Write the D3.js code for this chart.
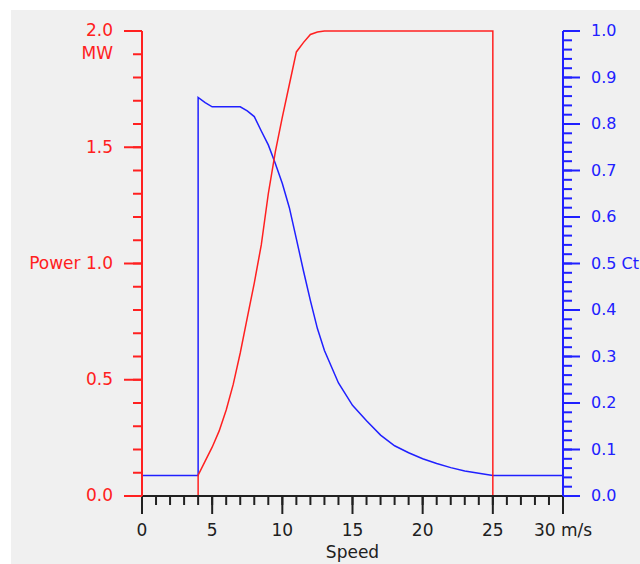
<!DOCTYPE html>
<html>
<head>
<meta charset="utf-8">
<script src="https://cdn.jsdelivr.net/npm/d3@7"></script>
<style>
    body { margin: 0; background: #fff; }
    svg { display: block; font-family: "DejaVu Sans", Verdana, sans-serif; }
</style>
</head>
<body>
<div id="chart"></div>
<script>
// wind speed in m/s
const powerSpeed = [0, 4, 4, 4.5, 5, 5.5, 6, 6.5, 7, 7.5, 8, 8.5, 9, 9.5, 10, 10.5, 11, 11.5, 12, 12.5, 13, 25, 25, 30];
// power in MW
const powerValues = [0, 0, 0.09, 0.15, 0.21, 0.28, 0.37, 0.48, 0.615, 0.766, 0.916, 1.08, 1.3, 1.48, 1.63, 1.77, 1.91, 1.95, 1.985, 1.996, 2.0, 2.0, 0, 0];

const ctSpeed = [0, 4, 4, 4.5, 5, 5.5, 6, 6.5, 7, 7.5, 8, 8.5, 9, 9.5, 10, 10.5, 11, 11.5, 12, 12.5, 13, 14, 15, 16, 17, 18, 19, 20, 21, 22, 23, 24, 25, 30];
const ctValues = [0.044, 0.044, 0.857, 0.846, 0.837, 0.837, 0.837, 0.837, 0.837, 0.828, 0.816, 0.785, 0.755, 0.715, 0.672, 0.62, 0.553, 0.485, 0.42, 0.36, 0.313, 0.243, 0.195, 0.162, 0.131, 0.108, 0.093, 0.08, 0.07, 0.061, 0.054, 0.049, 0.044, 0.044];

const speedTicks = [0, 5, 10, 15, 20, 25, 30];
const powerTicks = [0, 0.5, 1.0, 1.5, 2.0];
const ctTicks = [0, 0.1, 0.2, 0.3, 0.4, 0.5, 0.6, 0.7, 0.8, 0.9, 1.0];

const width = 640;
const height = 564;
const red = "#ff2020";
const blue = "#2020ff";
const ink = "#202020";

const svg = d3.select("#chart")
    .append("svg")
    .attr("width", width)
    .attr("height", height);

svg.append("rect")
    .attr("x", 11)
    .attr("y", 10)
    .attr("width", width - 11)
    .attr("height", height - 10)
    .attr("fill", "#f0f0f0");

const x = d3.scaleLinear().domain([0, 30]).range([142, 563]);
const yP = d3.scaleLinear().domain([0, 2]).range([496, 31]);
const yC = d3.scaleLinear().domain([0, 1]).range([496, 31]);

const powerData = powerSpeed.map((s, i) => ({ s, v: powerValues[i] }));
const ctData = ctSpeed.map((s, i) => ({ s, v: ctValues[i] }));

// curves
svg.append("path")
    .datum(ctData)
    .attr("fill", "none")
    .attr("stroke", blue)
    .attr("stroke-width", 1.5)
    .attr("d", d3.line().x((d) => x(d.s)).y((d) => yC(d.v)));

svg.append("path")
    .datum(powerData)
    .attr("fill", "none")
    .attr("stroke", red)
    .attr("stroke-width", 1.5)
    .attr("d", d3.line().x((d) => x(d.s)).y((d) => yP(d.v)));

function styleAxis(g, color, size = "17px") {
    g.selectAll("path, line").attr("stroke", color).attr("stroke-width", 2);
    g.selectAll("text").attr("fill", color).style("font-size", size);
    g.attr("font-family", null);
}

// bottom axis: minor then major
svg.append("g")
    .attr("transform", `translate(0, ${yP(0)})`)
    .call(d3.axisBottom(x).tickValues(d3.range(0, 31)).tickSize(9).tickSizeOuter(0).tickFormat("").offset(0))
    .call((g) => styleAxis(g, ink));

svg.append("g")
    .attr("transform", `translate(0, ${yP(0)})`)
    .call(d3.axisBottom(x).tickValues(speedTicks).tickSize(18).tickSizeOuter(0).tickPadding(10).offset(0)
        .tickFormat((d) => (d === 30 ? "30 m/s" : d)))
    .call((g) => styleAxis(g, ink));

// left axis (power)
svg.append("g")
    .attr("transform", `translate(${x(0)}, 0)`)
    .call(d3.axisLeft(yP).tickValues(d3.range(0, 21).map((i) => i / 10)).tickSize(9).tickSizeOuter(0).tickFormat("").offset(0))
    .call((g) => styleAxis(g, red));

svg.append("g")
    .attr("transform", `translate(${x(0)}, 0)`)
    .call(d3.axisLeft(yP).tickValues(powerTicks).tickSize(18).tickSizeOuter(0).tickPadding(11).offset(0)
        .tickFormat((d) => (d === 1 ? "Power 1.0" : d.toFixed(1))))
    .call((g) => styleAxis(g, red));

// right axis (Ct)
svg.append("g")
    .attr("transform", `translate(${x(30)}, 0)`)
    .call(d3.axisRight(yC).tickValues(d3.range(0, 51).map((i) => i / 50)).tickSize(9).tickSizeOuter(0).tickFormat("").offset(0))
    .call((g) => styleAxis(g, blue));

svg.append("g")
    .attr("transform", `translate(${x(30)}, 0)`)
    .call(d3.axisRight(yC).tickValues(ctTicks).tickSize(17).tickSizeOuter(0).tickPadding(11).offset(0)
        .tickFormat((d) => (d === 0.5 ? "0.5 Ct" : d.toFixed(1))))
    .call((g) => styleAxis(g, blue, "16px"));

// units and titles
svg.append("text")
    .attr("x", 113)
    .attr("y", yP(2) + 23)
    .attr("dy", "0.32em")
    .attr("text-anchor", "end")
    .attr("fill", red)
    .style("font-size", "17px")
    .text("MW");

svg.append("text")
    .attr("x", (x(0) + x(30)) / 2)
    .attr("y", 558)
    .attr("text-anchor", "middle")
    .attr("fill", ink)
    .style("font-size", "17px")
    .text("Speed");
</script>
</body>
</html>
